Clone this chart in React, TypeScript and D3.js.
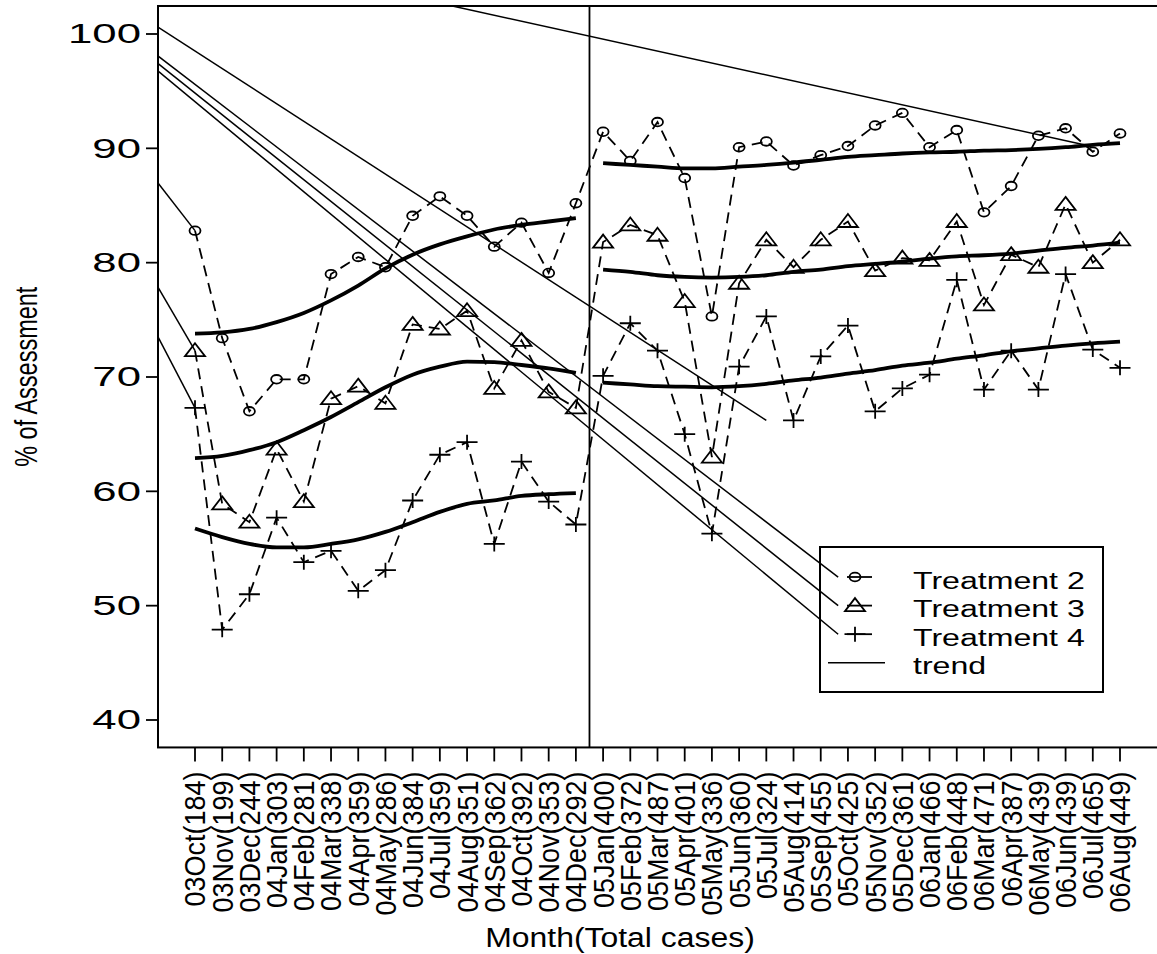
import React from "react";
import * as d3 from "d3";

const months = [
  "03Oct(184)", "03Nov(199)", "03Dec(244)", "04Jan(303)", "04Feb(281)", "04Mar(338)", "04Apr(359)",
  "04May(286)", "04Jun(384)", "04Jul(359)", "04Aug(351)", "04Sep(362)", "04Oct(392)", "04Nov(353)",
  "04Dec(292)", "05Jan(400)", "05Feb(372)", "05Mar(487)", "05Apr(401)", "05May(336)", "05Jun(360)",
  "05Jul(324)", "05Aug(414)", "05Sep(455)", "05Oct(425)", "05Nov(352)", "05Dec(361)", "06Jan(466)",
  "06Feb(448)", "06Mar(471)", "06Apr(387)", "06May(439)", "06Jun(439)", "06Jul(465)", "06Aug(449)",
];

const treatment2 = [82.8, 73.4, 67.0, 69.8, 69.8, 79.0, 80.5, 79.6, 84.1, 85.8, 84.1, 81.4, 83.5, 79.1, 85.2,
  91.45, 88.9, 92.3, 87.4, 75.3, 90.1, 90.6, 88.5, 89.4, 90.2, 92.0, 93.1, 90.1, 91.6, 84.4, 86.7, 91.1, 91.75, 89.7, 91.3];
const treatment3 = [72.3, 58.9, 57.3, 63.7, 59.1, 68.1, 69.2, 67.7, 74.6, 74.2, 75.8, 69.0, 73.2, 68.7, 67.3,
  81.8, 83.3, 82.4, 76.6, 63.0, 78.2, 82.0, 79.6, 82.0, 83.6, 79.3, 80.4, 80.2, 83.6, 76.3, 80.7, 79.6, 85.1, 80.0, 82.0];
const treatment4 = [67.3, 47.9, 51.0, 57.7, 53.8, 54.8, 51.3, 53.1, 59.2, 63.2, 64.3, 55.4, 62.6, 59.1, 57.1,
  70.1, 74.7, 72.3, 65.0, 56.3, 70.9, 75.3, 66.2, 71.8, 74.5, 67.0, 69.0, 70.2, 78.5, 68.9, 72.3, 68.9, 79.0, 72.4, 70.8];

// smoothed curves, period 1 (index 0-14) and period 2 (index 15-34)
const smooth2a = [73.8, 73.9, 74.2, 74.8, 75.6, 76.7, 78.0, 79.5, 80.7, 81.6, 82.3, 82.9, 83.3, 83.6, 83.9];
const smooth3a = [62.9, 63.1, 63.6, 64.3, 65.35, 66.5, 67.8, 69.1, 70.2, 70.9, 71.35, 71.3, 71.05, 70.75, 70.35];
const smooth4a = [56.75, 56.0, 55.4, 55.1, 55.1, 55.4, 55.8, 56.45, 57.3, 58.2, 58.9, 59.2, 59.6, 59.75, 59.85];
const smooth2b = [88.7, 88.55, 88.4, 88.25, 88.25, 88.4, 88.55, 88.75, 89.0, 89.25, 89.4, 89.55, 89.65, 89.7, 89.8, 89.85, 89.95, 90.1, 90.3, 90.45];
const smooth3b = [79.4, 79.2, 78.9, 78.75, 78.7, 78.75, 78.9, 79.2, 79.4, 79.7, 79.9, 80.1, 80.35, 80.55, 80.65, 80.8, 81.05, 81.3, 81.5, 81.75];
const smooth4b = [69.5, 69.35, 69.2, 69.15, 69.1, 69.2, 69.4, 69.7, 69.95, 70.3, 70.6, 71.0, 71.25, 71.6, 71.9, 72.25, 72.5, 72.75, 72.95, 73.1];

// straight "trend" segments in data units: [x1, y1, x2, y2]
const trendSegments: [number, number, number, number][] = [
  [-10.29, 114.35, 0, 82.8],
  [-10.29, 114.35, 0, 72.3],
  [-10.29, 114.35, 0, 67.3],
  [-10.29, 114.35, 21, 66.2],
  [-10.29, 114.35, 23.64, 52.5],
  [-10.29, 114.35, 23.64, 50.0],
  [-10.29, 114.35, 23.64, 47.5],
  [-10.29, 112.77, 32.72, 90.29],
];

const yTicks = [40, 50, 60, 70, 80, 90, 100];
const legendLabels = ["Treatment 2", "Treatment 3", "Treatment 4", "trend"];
const breakAt = 14.5;

const W = 1157;
const H = 954;
const FONT = "'Liberation Sans', Arial, Helvetica, sans-serif";

export default function App() {
  const x = d3.scaleLinear().domain([0, 34]).range([195, 1120]);
  const y = d3.scaleLinear().domain([40, 100]).range([720, 34]);
  const left = x(-1.36);
  const right = x(35.4);
  const top = y(102.45);
  const bottom = y(37.6);

  const dashed = d3.line<number>().x((_, i) => x(i)).y((d) => y(d));
  const smoothLine = (offset: number) =>
    d3.line<number>().x((_, i) => x(i + offset)).y((d) => y(d)).curve(d3.curveMonotoneX);

  const circle = (cx: number, cy: number, k: string) => (
    <ellipse key={k} cx={cx} cy={cy} rx={5.5} ry={4.3} fill="none" stroke="#000" strokeWidth={1.8} />
  );
  const triangle = (cx: number, cy: number, k: string) => (
    <path key={k} d={`M${cx},${cy - 7.5}L${cx + 10},${cy + 5.5}L${cx - 10},${cy + 5.5}Z`} fill="none" stroke="#000" strokeWidth={1.8} />
  );
  const plus = (cx: number, cy: number, k: string) => (
    <path key={k} d={`M${cx - 10.5},${cy}H${cx + 10.5}M${cx},${cy - 7.5}V${cy + 7.5}`} fill="none" stroke="#000" strokeWidth={1.8} />
  );

  const series = [
    { data: treatment2, mark: circle, sa: smooth2a, sb: smooth2b },
    { data: treatment3, mark: triangle, sa: smooth3a, sb: smooth3b },
    { data: treatment4, mark: plus, sa: smooth4a, sb: smooth4b },
  ];

  const legX = 820, legY = 547, legW = 283, legH = 145;
  const rowY = (k: number) => 577 + 28.6 * k;

  return (
    <div style={{ position: "absolute", left: 0, top: 0 }}>
      <svg width={W} height={H} style={{ display: "block", background: "#fff" }}>
        <defs>
          <clipPath id="plotclip">
            <rect x={left} y={top} width={right - left} height={bottom - top} />
          </clipPath>
        </defs>
        <rect width={W} height={H} fill="#fff" />
        <g clipPath="url(#plotclip)">
          {trendSegments.map((s, i) => (
            <line key={"t" + i} x1={x(s[0])} y1={y(s[1])} x2={x(s[2])} y2={y(s[3])} stroke="#000" strokeWidth={1.5} />
          ))}
          <line x1={x(breakAt)} x2={x(breakAt)} y1={top} y2={bottom} stroke="#000" strokeWidth={1.8} />
          {series.map((s, si) => (
            <g key={"s" + si}>
              <path d={dashed(s.data) || ""} fill="none" stroke="#000" strokeWidth={1.8} strokeDasharray="11 7" />
              <path d={smoothLine(0)(s.sa) || ""} fill="none" stroke="#000" strokeWidth={3.8} />
              <path d={smoothLine(15)(s.sb) || ""} fill="none" stroke="#000" strokeWidth={3.8} />
              {s.data.map((v, i) => s.mark(x(i), y(v), `m${si}-${i}`))}
            </g>
          ))}
        </g>
        {/* box */}
        <rect x={left} y={top} width={right - left + 10} height={bottom - top} fill="none" stroke="#000" strokeWidth={2} />
        {/* y axis */}
        {yTicks.map((t) => (
          <g key={"y" + t}>
            <line x1={left - 12} x2={left} y1={y(t)} y2={y(t)} stroke="#000" strokeWidth={1.8} />
            <text transform={`translate(${left - 17},${y(t)}) scale(1.62,1)`} textAnchor="end" dominantBaseline="central"
              fontFamily={FONT} fontSize={27} fill="#000">{t}</text>
          </g>
        ))}
        {/* x axis */}
        {months.map((m, i) => (
          <g key={"x" + i}>
            <line x1={x(i)} x2={x(i)} y1={bottom} y2={bottom + 14} stroke="#000" strokeWidth={1.8} />
            <text transform={`translate(${x(i)},${bottom + 24}) scale(1.1,1) rotate(-90)`} textAnchor="end" dominantBaseline="central"
              fontFamily={FONT} fontSize={27} fill="#000">{m}</text>
          </g>
        ))}
        <text transform={`translate(620,947) scale(1.14,1)`} textAnchor="middle" fontFamily={FONT} fontSize={28} fill="#000">
          Month(Total cases)
        </text>
        <text transform={`translate(26,${(top + bottom) / 2}) scale(1.3,1) rotate(-90)`} textAnchor="middle" dominantBaseline="central"
          fontFamily={FONT} fontSize={23.5} fill="#000">
          % of Assessment
        </text>
        {/* legend */}
        <rect x={legX} y={legY} width={legW} height={legH} fill="none" stroke="#000" strokeWidth={2} />
        {series.map((s, k) => (
          <g key={"lg" + k}>
            <line x1={847} x2={872} y1={rowY(k)} y2={rowY(k)} stroke="#000" strokeWidth={1.8} />
            {s.mark(855, rowY(k), "lm" + k)}
          </g>
        ))}
        <line x1={828} x2={885} y1={rowY(3)} y2={rowY(3)} stroke="#000" strokeWidth={1.5} />
        {legendLabels.map((l, k) => (
          <text key={"ll" + k} transform={`translate(913,${rowY(k) + 11.5}) scale(1.3,1)`} fontFamily={FONT} fontSize={24.7} fill="#000">
            {l}
          </text>
        ))}
      </svg>
    </div>
  );
}
